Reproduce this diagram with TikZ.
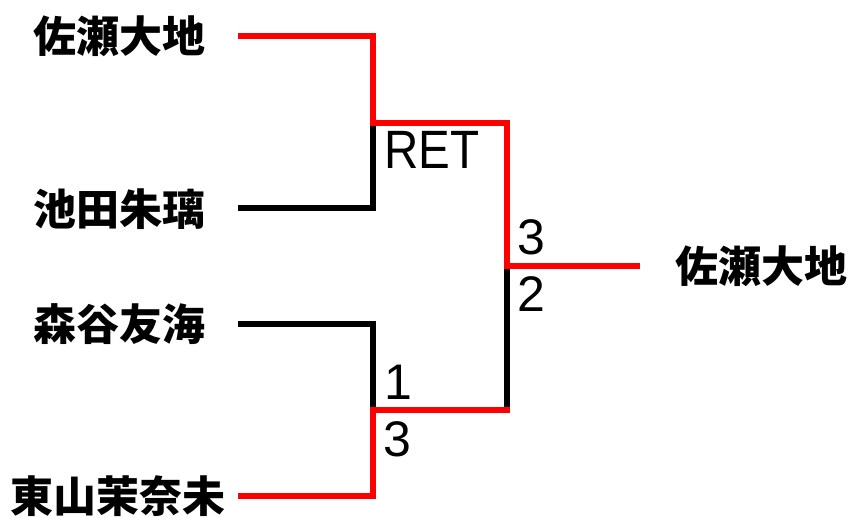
\documentclass[tikz,border=0pt]{standalone}
\usepackage{fontspec}
\setmainfont{Liberation Sans}
\newfontfamily\jp{Noto Sans CJK JP}
\begin{document}
\begin{tikzpicture}[x=1pt,y=-1pt,
  person/.style={inner sep=0pt,font=\jp\bfseries\fontsize{43}{43}\selectfont},
  score/.style={inner sep=0pt,anchor=west,font=\fontsize{50}{50}\selectfont},
  lose/.style={line width=6.8pt,draw=black},
  win/.style={line width=6.8pt,draw=red}]
\useasboundingbox (0,0) rectangle (861,517);
% names
\node[person] (n1) at (119,36) {佐瀬大地};
\node[person] (n2) at (119,209) {池田朱璃};
\node[person] (n3) at (119,324) {森谷友海};
\node[person] (n4) at (118,496) {東山茉奈未};
\node[person] (w) at (761,266) {佐瀬大地};
% bracket points
\coordinate (s1) at (238,36);
\coordinate (s2) at (238,208);
\coordinate (s3) at (238,324);
\coordinate (s4) at (238,496);
\coordinate (m1) at (373,123);
\coordinate (m2) at (373,410);
\coordinate (f1) at (507,266);
\coordinate (f2) at (507,410);
\coordinate (e) at (640,266);
% losers
\draw[lose] (s2) -| (m1);
\draw[lose] (s3) -| (m2);
\draw[lose] (f1) -- (f2);
% winners
\draw[win] (s1) -| (m1) -| (f1) -- (e);
\draw[win] (s4) -| (m2) -- ([xshift=3.4pt]f2);
% scores
\node[score,font=\fontsize{54}{54}\selectfont] (r1) at (384,150) {\scalebox{0.88}[1]{RET}};
\node[score] (t3) at (517,237) {3};
\node[score] (t2) at (517,294) {2};
\node[score] (b1) at (384,382) {1};
\node[score] (b3) at (383,439) {3};
\end{tikzpicture}
\end{document}
